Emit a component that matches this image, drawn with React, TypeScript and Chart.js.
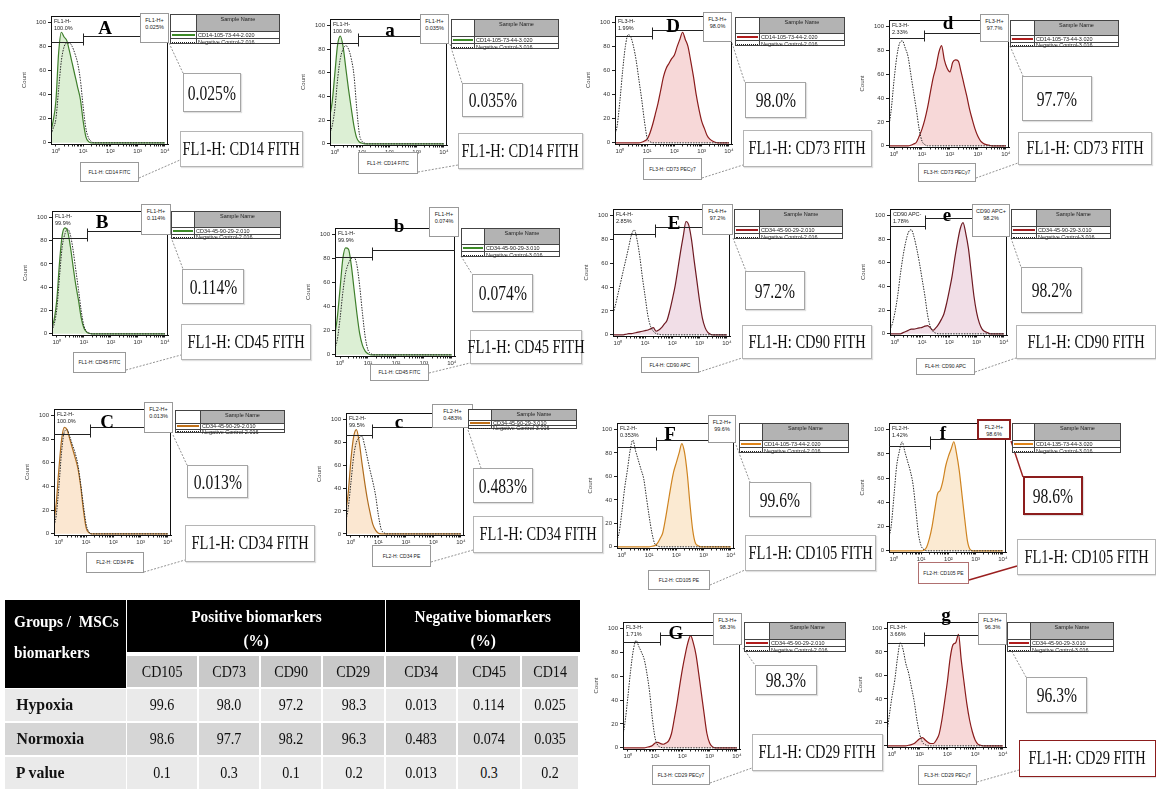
import React, { useEffect, useRef } from 'react';
import { Chart, registerables } from 'chart.js';

Chart.register(...registerables);

const SERIF = '"Liberation Serif", "Times New Roman", serif';
const SANS = '"Liberation Sans", Arial, sans-serif';

// ---------------- axes (shared by every histogram) ----------------
const X_CHANNELS = [0.63, 0.79, 1, 1.26, 1.58, 2, 2.51, 3.16, 3.98, 5.01, 6.31, 7.94, 10,
  12.6, 15.8, 20, 25.1, 31.6, 39.8, 50.1, 63.1, 79.4, 100,
  126, 158, 200, 251, 316, 398, 501, 631, 794, 1000,
  1259, 1585, 1995, 2512, 3162, 3981, 5012, 6310, 7943, 10000];
const X_MAJOR_TICKS = [1, 10, 100, 1000, 10000];
const X_MINOR_TICKS = [2, 3, 4, 5, 6, 7, 8, 9, 20, 30, 40, 50, 60, 70, 80, 90, 200, 300, 400, 500, 600, 700, 800, 900, 2000, 3000, 4000, 5000, 6000, 7000, 8000, 9000];
const X_TICK_LABELS = ['10⁰', '10¹', '10²', '10³', '10⁴'];
const Y_TICKS = [0, 20, 40, 60, 80, 100];
const X_RANGE = [0.66, 13000];
const Y_RANGE = [-1, 105.5];

// ---------------- histogram counts (one value per X_CHANNELS entry) ----------------
const A_SAMPLE = [8, 18, 35, 75, 92, 88, 85, 76, 66, 56, 46, 36, 18, 5, 1, 0, 0, 0, 0, 0, 0, 0, 0, 0, 0, 0, 0, 0, 0, 0, 0, 0, 0, 0, 0, 0, 0, 0, 0, 0, 0, 0, 0];
const A_CONTROL = [5, 12, 20, 45, 68, 80, 83, 83, 80, 74, 66, 52, 30, 12, 4, 1, 0, 0, 0, 0, 0, 0, 0, 0, 0, 0, 0, 0, 0, 0, 0, 0, 0, 0, 0, 0, 0, 0, 0, 0, 0, 0, 0];
const a_SAMPLE = [22, 35, 60, 84, 91, 82, 64, 46, 30, 15, 5, 1.5, 0.5, 0, 0, 0, 0, 0, 0, 0, 0, 0, 0, 0, 0, 0, 0, 0, 0, 0, 0, 0, 0, 0, 0, 0, 0, 0, 0, 0, 0, 0, 0];
const a_CONTROL = [8, 15, 30, 55, 72, 80, 83, 80, 72, 58, 30, 8, 2, 0.5, 0, 0, 0, 0, 0, 0, 0, 0, 0, 0, 0, 0, 0, 0, 0, 0, 0, 0, 0, 0, 0, 0, 0, 0, 0, 0, 0, 0, 0];
const B_SAMPLE = [5, 12, 30, 62, 85, 91, 88, 75, 58, 42, 29, 14, 5, 1.5, 0.5, 0, 0, 0, 0, 0, 0, 0, 0, 0, 0, 0, 0, 0, 0, 0, 0, 0, 0, 0, 0, 0, 0, 0, 0, 0, 0, 0, 0];
const B_CONTROL = [3, 8, 22, 50, 75, 86, 90, 85, 72, 55, 38, 20, 7, 2, 0.5, 0, 0, 0, 0, 0, 0, 0, 0, 0, 0, 0, 0, 0, 0, 0, 0, 0, 0, 0, 0, 0, 0, 0, 0, 0, 0, 0, 0];
const b_SAMPLE = [15, 30, 55, 80, 89, 88, 75, 55, 35, 18, 8, 3, 0.8, 0, 0, 0, 0, 0, 0, 0, 0, 0, 0, 0, 0, 0, 0, 0, 0, 0, 0, 0, 0, 0, 0, 0, 0, 0, 0, 0, 0, 0, 0];
const b_CONTROL = [5, 12, 30, 52, 68, 76, 80, 81, 75, 58, 35, 15, 4, 1, 0, 0, 0, 0, 0, 0, 0, 0, 0, 0, 0, 0, 0, 0, 0, 0, 0, 0, 0, 0, 0, 0, 0, 0, 0, 0, 0, 0, 0];
const C_SAMPLE = [9, 25, 55, 80, 90, 88, 80, 72, 64, 55, 40, 20, 5, 1, 0, 0, 0, 0, 0, 0, 0, 0, 0, 0, 0, 0, 0, 0, 0, 0, 0, 0, 0, 0, 0, 0, 0, 0, 0, 0, 0, 0, 0];
const C_CONTROL = [5, 15, 40, 70, 86, 88, 82, 75, 68, 58, 42, 24, 8, 1.5, 0, 0, 0, 0, 0, 0, 0, 0, 0, 0, 0, 0, 0, 0, 0, 0, 0, 0, 0, 0, 0, 0, 0, 0, 0, 0, 0, 0, 0];
const c_SAMPLE = [18, 35, 65, 85, 91, 80, 62, 45, 30, 18, 8, 3, 0.5, 0, 0, 0, 0, 0, 0, 0, 0, 0, 0, 0, 0, 0, 0, 0, 0, 0, 0, 0, 0, 0, 0, 0, 0, 0, 0, 0, 0, 0, 0];
const c_CONTROL = [10, 22, 45, 68, 80, 84, 85, 77, 66, 55, 45, 33, 16, 4, 1, 0, 0, 0, 0, 0, 0, 0, 0, 0, 0, 0, 0, 0, 0, 0, 0, 0, 0, 0, 0, 0, 0, 0, 0, 0, 0, 0, 0];
const D_SAMPLE = [0, 0, 0, 0, 0, 0, 0, 0, 0, 0, 0.5, 1.5, 3, 8, 15, 24, 33, 44, 55, 62, 66, 70, 73, 80, 86, 92, 86, 80, 68, 55, 40, 28, 18, 12, 6, 3, 1.5, 0.5, 0, 0, 0, 0, 0];
const D_CONTROL = [6, 14, 35, 60, 80, 90, 88, 80, 68, 52, 36, 18, 4, 1, 0, 0, 0, 0, 0, 0, 0, 0, 0, 0, 0, 0, 0, 0, 0, 0, 0, 0, 0, 0, 0, 0, 0, 0, 0, 0, 0, 0, 0];
const d_SAMPLE = [0, 0, 0, 0, 0, 0, 0, 0, 0.5, 1.5, 3, 8, 14, 22, 32, 45, 57, 66, 78, 84, 72, 65, 62, 70, 72, 71, 62, 52, 42, 31, 22, 14, 8, 4, 2, 1, 0.5, 0, 0, 0, 0, 0, 0];
const d_CONTROL = [14, 30, 55, 75, 86, 88, 82, 75, 60, 45, 30, 14, 4, 1, 0, 0, 0, 0, 0, 0, 0, 0, 0, 0, 0, 0, 0, 0, 0, 0, 0, 0, 0, 0, 0, 0, 0, 0, 0, 0, 0, 0, 0];
const E_SAMPLE = [0, 0, 0, 0, 0, 0.5, 1, 1, 1.5, 2, 2.5, 3, 3.5, 4, 5, 6, 3, 4, 6, 9, 12, 20, 30, 41, 55, 70, 83, 95, 92, 80, 62, 45, 28, 14, 6, 2, 0.5, 0, 0, 0, 0, 0, 0];
const E_CONTROL = [16, 24, 34, 44, 54, 64, 74, 84, 88, 80, 66, 48, 32, 16, 7, 3, 1, 0.5, 0, 0, 0, 0, 0, 0, 0, 0, 0, 0, 0, 0, 0, 0, 0, 0, 0, 0, 0, 0, 0, 0, 0, 0, 0];
const e_SAMPLE = [0, 0, 0, 0, 0, 1, 2, 3, 4, 4, 4.5, 5, 5.5, 6.5, 7, 5, 3, 5, 8, 12, 17, 26, 37, 49, 64, 78, 89, 94, 85, 72, 52, 32, 18, 9, 4, 2, 1, 0, 0, 0, 0, 0, 0];
const e_CONTROL = [3, 8, 18, 32, 50, 66, 78, 86, 88, 82, 72, 60, 46, 32, 16, 6, 2, 0.5, 0, 0, 0, 0, 0, 0, 0, 0, 0, 0, 0, 0, 0, 0, 0, 0, 0, 0, 0, 0, 0, 0, 0, 0, 0];
const F_SAMPLE = [0, 0, 0, 0, 0, 0, 0, 0, 0, 0, 0, 0, 0, 0.5, 1, 3, 7, 12, 24, 38, 52, 64, 72, 80, 88, 80, 62, 36, 14, 3, 1, 0, 0, 0, 0, 0, 0, 0, 0, 0, 0, 0, 0];
const F_CONTROL = [5, 12, 30, 50, 65, 82, 91, 82, 74, 66, 58, 42, 26, 12, 3, 1, 0, 0, 0, 0, 0, 0, 0, 0, 0, 0, 0, 0, 0, 0, 0, 0, 0, 0, 0, 0, 0, 0, 0, 0, 0, 0, 0];
const f_SAMPLE = [0, 0, 0, 0, 0, 0, 0, 0, 0, 0, 0, 0, 0, 0.5, 3, 10, 20, 34, 47, 50, 58, 70, 78, 84, 90, 80, 66, 46, 26, 8, 1, 0, 0, 0, 0, 0, 0, 0, 0, 0, 0, 0, 0];
const f_CONTROL = [10, 20, 45, 70, 82, 90, 82, 74, 66, 55, 35, 14, 4, 1, 0, 0, 0, 0, 0, 0, 0, 0, 0, 0, 0, 0, 0, 0, 0, 0, 0, 0, 0, 0, 0, 0, 0, 0, 0, 0, 0, 0, 0];
const G_SAMPLE = [0, 0, 0, 0, 0, 0, 0, 0, 0, 0.5, 1, 2, 4, 4.5, 3.5, 3, 4, 6, 12, 24, 37, 52, 66, 78, 88, 94, 88, 78, 62, 45, 28, 12, 4, 1, 0, 0, 0, 0, 0, 0, 0, 0, 0];
const G_CONTROL = [8, 22, 43, 65, 82, 90, 85, 80, 74, 62, 46, 24, 8, 2, 0.5, 0, 0, 0, 0, 0, 0, 0, 0, 0, 0, 0, 0, 0, 0, 0, 0, 0, 0, 0, 0, 0, 0, 0, 0, 0, 0, 0, 0];
const g_SAMPLE = [0, 0, 0, 0, 0, 0, 0, 0, 0.5, 1, 2, 4, 6, 7, 5, 3, 2, 2, 5, 10, 22, 38, 55, 75, 86, 88, 95, 73, 54, 36, 22, 12, 5, 1.5, 0.5, 0, 0, 0, 0, 0, 0, 0, 0];
const g_CONTROL = [9, 25, 42, 56, 75, 88, 82, 70, 62, 50, 38, 22, 10, 3, 1, 0, 0, 0, 0, 0, 0, 0, 0, 0, 0, 0, 0, 0, 0, 0, 0, 0, 0, 0, 0, 0, 0, 0, 0, 0, 0, 0, 0];

// gate markers: [boundary channel, negative-gate count level, positive-gate count level]
const A_GATE = [10, 84, 89];
const a_GATE = [6.8, 85, 91];
const B_GATE = [12.6, 82, 88];
const b_GATE = [13.5, 81, 87];
const C_GATE = [13.5, 84.7, 90];
const c_GATE = [5.9, 86.7, 93];
const D_GATE = [15.5, 88.6, 94];
const d_GATE = [12.3, 90.6, 95];
const E_GATE = [22.4, 84.6, 90];
const e_GATE = [12.9, 91.5, 98];
const F_GATE = [17.4, 85.2, 91];
const f_GATE = [20.9, 86.2, 92.3];
const G_GATE = [14.8, 88.7, 94.6];
const g_GATE = [14.1, 87.2, 94.3];

// ---------------- summary table ----------------
const TABLE_MARKERS = ['CD105', 'CD73', 'CD90', 'CD29', 'CD34', 'CD45', 'CD14'];
const TABLE_GROUPS = ['Positive biomarkers', 'Negative biomarkers'];
const ROW_LABELS = ['Hypoxia', 'Normoxia', 'P value'];
const HYPOXIA = ['99.6', '98.0', '97.2', '98.3', '0.013', '0.114', '0.025'];
const NORMOXIA = ['98.6', '97.7', '98.2', '96.3', '0.483', '0.074', '0.035'];
const P_VALUES = ['0.1', '0.3', '0.1', '0.2', '0.013', '0.3', '0.2'];

// ---------------- styles ----------------
const GREEN = { line: '#3f7f2c', fill: 'rgba(214,236,204,0.85)', legend: '#3c8a26' };
const BROWN = { line: '#b06d1f', fill: 'rgba(251,228,204,0.9)', legend: '#c07018' };
const RED = { line: '#8a1c1c', fill: 'rgba(246,212,212,0.9)', legend: '#b01c1c' };
const MAUVE = { line: '#6e1a22', fill: 'rgba(240,218,228,0.9)', legend: '#a01c20' };
const ORANGE = { line: '#cf8420', fill: 'rgba(251,232,205,0.9)', legend: '#e08418' };

type Rect = [number, number, number, number];
type Seg = [number, number, number, number];
interface PanelSpec {
  letter: string; letterAt: [number, number];
  plot: Rect; sample: number[]; control: number[]; gate: number[];
  color: { line: string; fill: string; legend: string };
  neg: string[]; pos: string[]; names: string[];
  xTitle: string; label: string;
  posBox: Rect; legend: Rect; split: number; pctBox: Rect; labelBox: Rect; xBox: Rect;
  links: Seg[]; accent?: boolean; labelAccent?: boolean;
}

const PANELS: PanelSpec[] = [
  { letter: 'A', letterAt: [105, 27], plot: [51, 16, 117, 128], sample: A_SAMPLE, control: A_CONTROL, gate: A_GATE, color: GREEN,
    neg: ['FL1-H-', '100.0%'], pos: ['FL1-H+', '0.025%'], names: ['CD14-105-73-44-2.020', 'Negative Control-2.016'],
    xTitle: 'FL1-H: CD14 FITC', label: 'FL1-H: CD14 FITH',
    posBox: [140, 13, 29, 30], legend: [170, 14, 110, 30], split: 25, pctBox: [183, 73, 58, 39], labelBox: [180, 131, 123, 36], xBox: [80, 162, 59, 20],
    links: [[169, 43, 183, 73], [139, 178, 180, 160]] },
  { letter: 'a', letterAt: [390, 29], plot: [330, 19, 117, 126], sample: a_SAMPLE, control: a_CONTROL, gate: a_GATE, color: GREEN,
    neg: ['FL1-H-', '100.0%'], pos: ['FL1-H+', '0.035%'], names: ['CD14-105-73-44-3.020', 'Negative Control-3.016'],
    xTitle: 'FL1-H: CD14 FITC', label: 'FL1-H: CD14 FITH',
    posBox: [420, 14, 29, 30], legend: [451, 19, 108, 30], split: 22, pctBox: [462, 83, 61, 34], labelBox: [458, 133, 125, 36], xBox: [358, 152, 60, 22],
    links: [[450, 44, 462, 83], [418, 172, 458, 165]] },
  { letter: 'D', letterAt: [673, 25], plot: [615, 16, 117, 128], sample: D_SAMPLE, control: D_CONTROL, gate: D_GATE, color: RED,
    neg: ['FL3-H-', '1.99%'], pos: ['FL3-H+', '98.0%'], names: ['CD14-105-73-44-2.020', 'Negative Control-2.016'],
    xTitle: 'FL3-H: CD73 PECy7', label: 'FL1-H: CD73 FITH',
    posBox: [703, 12, 29, 30], legend: [735, 17, 110, 29], split: 23, pctBox: [745, 82, 61, 36], labelBox: [743, 130, 129, 37], xBox: [643, 158, 59, 22],
    links: [[732, 43, 745, 83], [702, 178, 743, 165]] },
  { letter: 'd', letterAt: [948, 22], plot: [889, 20, 120, 127], sample: d_SAMPLE, control: d_CONTROL, gate: d_GATE, color: RED,
    neg: ['FL3-H-', '2.33%'], pos: ['FL3-H+', '97.7%'], names: ['CD14-105-73-44-3.020', 'Negative Control-3.016'],
    xTitle: 'FL3-H: CD73 PECy7', label: 'FL1-H: CD73 FITH',
    posBox: [980, 14, 29, 28], legend: [1010, 20, 109, 27], split: 23, pctBox: [1022, 76, 70, 45], labelBox: [1018, 132, 134, 33], xBox: [918, 163, 58, 19],
    links: [[1010, 46, 1023, 76], [976, 178, 1018, 163]] },
  { letter: 'B', letterAt: [102, 221], plot: [52, 211, 116, 124], sample: B_SAMPLE, control: B_CONTROL, gate: B_GATE, color: GREEN,
    neg: ['FL1-H-', '99.9%'], pos: ['FL1-H+', '0.114%'], names: ['CD34-45-90-29-2.010', 'Negative Control-2.016'],
    xTitle: 'FL1-H: CD45 FITC', label: 'FL1-H: CD45 FITH',
    posBox: [141, 204, 30, 31], legend: [171, 211, 110, 28], split: 22, pctBox: [182, 269, 62, 35], labelBox: [181, 324, 130, 36], xBox: [73, 352, 53, 21],
    links: [[171, 237, 183, 269], [126, 370, 181, 355]] },
  { letter: 'b', letterAt: [399, 225], plot: [335, 228, 120, 128], sample: b_SAMPLE, control: b_CONTROL, gate: b_GATE, color: GREEN,
    neg: ['FL1-H-', '99.9%'], pos: ['FL1-H+', '0.074%'], names: ['CD34-45-90-29-3.010', 'Negative Control-3.016'],
    xTitle: 'FL1-H: CD45 FITC', label: 'FL1-H: CD45 FITH',
    posBox: [429, 207, 30, 30], legend: [461, 228, 99, 29], split: 22, pctBox: [472, 274, 61, 38], labelBox: [470, 330, 112, 34], xBox: [370, 364, 59, 17],
    links: [[461, 256, 472, 274], [429, 373, 470, 363]] },
  { letter: 'E', letterAt: [674, 222], plot: [613, 209, 117, 127], sample: E_SAMPLE, control: E_CONTROL, gate: E_GATE, color: MAUVE,
    neg: ['FL4-H-', '2.85%'], pos: ['FL4-H+', '97.2%'], names: ['CD34-45-90-29-2.010', 'Negative Control-2.016'],
    xTitle: 'FL4-H: CD90 APC', label: 'FL1-H: CD90 FITH',
    posBox: [702, 204, 31, 31], legend: [734, 209, 109, 30], split: 24, pctBox: [745, 271, 60, 39], labelBox: [742, 325, 130, 34], xBox: [641, 357, 58, 16],
    links: [[733, 238, 746, 271], [699, 372, 742, 358]] },
  { letter: 'e', letterAt: [947, 214], plot: [890, 209, 117, 126], sample: e_SAMPLE, control: e_CONTROL, gate: e_GATE, color: MAUVE,
    neg: ['CD90 APC-', '1.78%'], pos: ['CD90 APC+', '98.2%'], names: ['CD34-45-90-29-3.010', 'Negative Control-3.016'],
    xTitle: 'FL4-H: CD90 APC', label: 'FL1-H: CD90 FITH',
    posBox: [972, 204, 38, 33], legend: [1011, 209, 100, 30], split: 24, pctBox: [1021, 267, 61, 46], labelBox: [1016, 325, 140, 34], xBox: [916, 358, 59, 17],
    links: [[1011, 238, 1021, 267], [975, 372, 1016, 358]] },
  { letter: 'C', letterAt: [107, 421], plot: [54, 409, 117, 126], sample: C_SAMPLE, control: C_CONTROL, gate: C_GATE, color: BROWN,
    neg: ['FL2-H-', '100.0%'], pos: ['FL2-H+', '0.013%'], names: ['CD34-45-90-29-2.010', 'Negative Control-2.016'],
    xTitle: 'FL2-H: CD34 PE', label: 'FL1-H: CD34 FITH',
    posBox: [144, 402, 29, 31], legend: [175, 410, 110, 23], split: 24, pctBox: [187, 465, 61, 33], labelBox: [185, 525, 130, 37], xBox: [86, 552, 58, 21],
    links: [[173, 435, 187, 465], [144, 572, 185, 560]] },
  { letter: 'c', letterAt: [399, 421], plot: [346, 413, 118, 122], sample: c_SAMPLE, control: c_CONTROL, gate: c_GATE, color: BROWN,
    neg: ['FL2-H-', '99.5%'], pos: ['FL2-H+', '0.483%'], names: ['CD34-45-90-29-3.010', 'Negative Control-3.016'],
    xTitle: 'FL2-H: CD34 PE', label: 'FL1-H: CD34 FITH',
    posBox: [432, 404, 41, 24], legend: [468, 409, 109, 20], split: 22, pctBox: [473, 468, 60, 35], labelBox: [473, 516, 130, 37], xBox: [372, 545, 59, 22],
    links: [[468, 430, 481, 468], [431, 562, 473, 550]] },
  { letter: 'F', letterAt: [670, 433], plot: [617, 423, 117, 125], sample: F_SAMPLE, control: F_CONTROL, gate: F_GATE, color: ORANGE,
    neg: ['FL2-H-', '0.353%'], pos: ['FL2-H+', '99.6%'], names: ['CD14-105-73-44-2.020', 'Negative Control-2.016'],
    xTitle: 'FL2-H: CD105 PE', label: 'FL1-H: CD105 FITH',
    posBox: [708, 415, 28, 28], legend: [739, 423, 110, 30], split: 22, pctBox: [749, 482, 62, 35], labelBox: [745, 535, 131, 36], xBox: [648, 570, 62, 20],
    links: [[736, 445, 750, 482], [710, 585, 745, 570]] },
  { letter: 'f', letterAt: [943, 432], plot: [889, 423, 117, 129], sample: f_SAMPLE, control: f_CONTROL, gate: f_GATE, color: ORANGE,
    neg: ['FL2-H-', '1.42%'], pos: ['FL2-H+', '98.6%'], names: ['CD14-135-73-44-3.020', 'Negative Control-3.016'],
    xTitle: 'FL2-H: CD105 PE', label: 'FL1-H: CD105 FITH',
    posBox: [977, 419, 34, 21], legend: [1012, 423, 109, 30], split: 21, pctBox: [1023, 476, 60, 39], labelBox: [1017, 539, 139, 36], xBox: [918, 562, 51, 22],
    links: [[1011, 441, 1023, 477], [969, 580, 1017, 566]], accent: true },
  { letter: 'G', letterAt: [676, 632], plot: [623, 622, 117, 127], sample: G_SAMPLE, control: G_CONTROL, gate: G_GATE, color: RED,
    neg: ['FL3-H-', '1.71%'], pos: ['FL3-H+', '98.3%'], names: ['CD34-45-90-29-2.010', 'Negative Control-2.016'],
    xTitle: 'FL3-H: CD29 PECy7', label: 'FL1-H: CD29 FITH',
    posBox: [713, 613, 29, 32], legend: [744, 622, 102, 30], split: 24, pctBox: [755, 665, 62, 30], labelBox: [752, 734, 131, 37], xBox: [652, 765, 58, 20],
    links: [[743, 648, 755, 665], [710, 783, 752, 768]] },
  { letter: 'g', letterAt: [946, 614], plot: [887, 622, 119, 125], sample: g_SAMPLE, control: g_CONTROL, gate: g_GATE, color: RED,
    neg: ['FL3-H-', '3.66%'], pos: ['FL3-H+', '96.3%'], names: ['CD34-45-90-29-3.010', 'Negative Control-3.016'],
    xTitle: 'FL3-H: CD29 PECy7', label: 'FL1-H: CD29 FITH',
    posBox: [978, 613, 29, 32], legend: [1007, 622, 107, 30], split: 22, pctBox: [1026, 677, 61, 36], labelBox: [1019, 740, 137, 37], xBox: [918, 765, 59, 20],
    links: [[1010, 648, 1026, 677], [977, 782, 1019, 770]], labelAccent: true },
];

// ---------------- chart geometry ----------------
const AXW = 30;
const AXH = 16;
const PADT = 3;
const PADR = 8;
const X_ALL_TICKS = [...X_MAJOR_TICKS, ...X_MINOR_TICKS].sort((p, q) => p - q);

function gatePlugin(gate: number[]) {
  return {
    id: 'gateFrame',
    afterDatasetsDraw(chart: any) {
      const { ctx, chartArea: a, scales } = chart;
      const x = scales.x;
      const y = scales.y;
      ctx.save();
      ctx.strokeStyle = '#111';
      ctx.lineWidth = 1;
      ctx.strokeRect(Math.round(a.left) + 0.5, Math.round(a.top) + 0.5, Math.round(a.right - a.left) - 1, Math.round(a.bottom - a.top));
      const xb = Math.round(x.getPixelForValue(gate[0])) + 0.5;
      const yn = Math.round(y.getPixelForValue(gate[1])) + 0.5;
      const yp = Math.round(y.getPixelForValue(gate[2])) + 0.5;
      ctx.strokeStyle = '#222';
      ctx.beginPath();
      ctx.moveTo(a.left, yn); ctx.lineTo(xb, yn);
      ctx.moveTo(xb, yp); ctx.lineTo(a.right, yp);
      ctx.moveTo(xb, yp - 3); ctx.lineTo(xb, yn + 3);
      ctx.stroke();
      ctx.restore();
    },
  };
}

function Histogram({ p }: { p: PanelSpec }) {
  const ref = useRef<HTMLCanvasElement>(null);
  const [L, T, W, H] = p.plot;
  const cw = W + AXW + PADR;
  const ch = H + PADT + AXH;
  useEffect(() => {
    const tickFont = { size: 6, family: SANS };
    const chart = new Chart(ref.current as HTMLCanvasElement, {
      type: 'line',
      data: {
        datasets: [
          {
            label: 'Negative Control',
            data: X_CHANNELS.map((x, i) => ({ x, y: p.control[i] })),
            borderColor: '#2a2a2a', borderWidth: 1, borderDash: [1.5, 1.2],
            pointRadius: 0, fill: false, cubicInterpolationMode: 'monotone',
          },
          {
            label: 'Sample',
            data: X_CHANNELS.map((x, i) => ({ x, y: p.sample[i] })),
            borderColor: p.color.line, borderWidth: 1.2, backgroundColor: p.color.fill,
            pointRadius: 0, fill: 'origin', cubicInterpolationMode: 'monotone',
          },
        ],
      } as any,
      options: {
        animation: false, responsive: false, maintainAspectRatio: false, devicePixelRatio: 1,
        events: [],
        layout: { padding: { left: 0, top: PADT, right: PADR, bottom: 0 } },
        plugins: { legend: { display: false }, tooltip: { enabled: false } },
        scales: {
          x: {
            type: 'logarithmic', min: X_RANGE[0], max: X_RANGE[1],
            afterBuildTicks: (s: any) => { s.ticks = X_ALL_TICKS.map((v) => ({ value: v })); },
            afterFit: (s: any) => { s.height = AXH; s.paddingLeft = 0; s.paddingRight = 0; },
            ticks: {
              autoSkip: false, maxRotation: 0, minRotation: 0, padding: 1, font: tickFont, color: '#333',
              callback: (v: any) => { const i = X_MAJOR_TICKS.indexOf(Number(v)); return i >= 0 ? X_TICK_LABELS[i] : ''; },
            },
            grid: { drawOnChartArea: false, drawTicks: true, tickLength: 2.5, color: '#222' },
            border: { display: true, color: '#111', width: 1 },
          },
          y: {
            min: Y_RANGE[0], max: Y_RANGE[1],
            afterBuildTicks: (s: any) => { s.ticks = Y_TICKS.map((v) => ({ value: v })); },
            afterFit: (s: any) => { s.width = AXW; s.paddingTop = 0; s.paddingBottom = 0; },
            ticks: { font: tickFont, color: '#333', padding: 2 },
            title: { display: true, text: 'Count', font: { size: 6, family: SANS }, color: '#444', padding: { top: 0, bottom: 0 } },
            grid: { drawOnChartArea: false, drawTicks: true, tickLength: 3, color: '#222' },
            border: { display: true, color: '#111', width: 1 },
          },
        },
      } as any,
      plugins: [gatePlugin(p.gate)],
    });
    return () => chart.destroy();
  }, []);
  return (
    <canvas ref={ref} width={cw} height={ch}
      style={{ position: 'absolute', left: L - AXW, top: T - PADT, width: cw, height: ch }} />
  );
}

function Squeezed({ children, size, scale = 0.78, bold = false, color = '#111' }: any) {
  return (
    <span style={{ display: 'inline-block', fontFamily: SERIF, fontSize: size, fontWeight: bold ? 700 : 400, transform: `scaleX(${scale})`, whiteSpace: 'nowrap', color, lineHeight: 1 }}>
      {children}
    </span>
  );
}

function Box({ r, border = '1px solid #aaa', children, shadow = true }: any) {
  const [x, y, w, h] = r;
  return (
    <div style={{ position: 'absolute', left: x, top: y, width: w, height: h, boxSizing: 'border-box', border, background: '#fff',
      display: 'flex', alignItems: 'center', justifyContent: 'center', boxShadow: shadow ? '1px 1px 1px rgba(0,0,0,0.12)' : 'none' }}>
      {children}
    </div>
  );
}

const tiny: any = { fontFamily: SANS, fontSize: 5.5, lineHeight: '6.5px', color: '#222', whiteSpace: 'nowrap' };

function Legend({ p }: { p: PanelSpec }) {
  const [x, y, w, h] = p.legend;
  const head = Math.round(h * 0.52);
  const row = (h - head) / 2;
  return (
    <div style={{ position: 'absolute', left: x, top: y, width: w, height: h, boxSizing: 'border-box', border: '1px solid #444', background: '#fff' }}>
      <div style={{ position: 'absolute', left: p.split, top: 0, right: 0, height: head, background: '#b3b3b3', borderLeft: '1px solid #444', boxSizing: 'border-box', textAlign: 'center', ...tiny, paddingTop: 1 }}>Sample Name</div>
      <div style={{ position: 'absolute', left: 0, right: 0, top: head, height: 0, borderTop: '1px solid #444' }} />
      <div style={{ position: 'absolute', left: 0, right: 0, top: head + row, height: 0, borderTop: '1px solid #444' }} />
      <div style={{ position: 'absolute', left: p.split, top: head, bottom: 0, width: 0, borderLeft: '1px solid #444' }} />
      <div style={{ position: 'absolute', left: 1, width: p.split - 2, top: head + row / 2 - 0.5, height: 2, background: p.color.legend }} />
      <div style={{ position: 'absolute', left: 1, width: p.split - 2, top: head + row * 1.5, height: 0, borderTop: '1px dotted #222' }} />
      <div style={{ position: 'absolute', left: p.split + 2, top: head + (row - 6.5) / 2 + 0.5, ...tiny }}>{p.names[0]}</div>
      <div style={{ position: 'absolute', left: p.split + 2, top: head + row + (row - 6.5) / 2 + 0.5, ...tiny }}>{p.names[1]}</div>
    </div>
  );
}

function PanelOverlay({ p }: { p: PanelSpec }) {
  const [L, T] = p.plot;
  const red = '#8c1d1d';
  return (
    <>
      <div style={{ position: 'absolute', left: L + 3, top: T + 2, ...tiny }}>{p.neg[0]}<br />{p.neg[1]}</div>
      <div style={{ position: 'absolute', left: p.posBox[0], top: p.posBox[1], width: p.posBox[2], height: p.posBox[3], boxSizing: 'border-box',
        border: p.accent ? `2px solid ${red}` : '1px solid #999', background: '#fff', paddingTop: 3, textAlign: 'center', ...tiny }}>
        {p.pos[0]}<br />{p.pos[1]}
      </div>
      <div style={{ position: 'absolute', left: p.letterAt[0], top: p.letterAt[1], transform: 'translate(-50%,-50%)', fontFamily: SERIF, fontWeight: 700, fontSize: 19, lineHeight: 1, color: '#000' }}>{p.letter}</div>
      <Legend p={p} />
      <Box r={p.pctBox} border={p.accent ? `2px solid ${red}` : '1px solid #a5a5a5'}>
        <Squeezed size={20}>{p.pos[1]}</Squeezed>
      </Box>
      <Box r={p.labelBox} border={p.labelAccent ? `1px solid ${red}` : '1px solid #b5b5b5'}>
        <Squeezed size={18.5}>{p.label}</Squeezed>
      </Box>
      <Box r={p.xBox} border={p.accent ? '1px solid #b07070' : '1px solid #999'} shadow={false}>
        <span style={{ ...tiny, fontSize: 5 }}>{p.xTitle}</span>
      </Box>
    </>
  );
}

function Connectors() {
  return (
    <svg width={1156} height={789} style={{ position: 'absolute', left: 0, top: 0, pointerEvents: 'none' }}>
      {PANELS.map((p, i) => p.links.map((s, j) => (
        <line key={`${i}-${j}`} x1={s[0]} y1={s[1]} x2={s[2]} y2={s[3]}
          stroke={p.accent ? '#9a1f1f' : '#777'} strokeWidth={p.accent ? 1.4 : 0.8} strokeDasharray={p.accent ? undefined : '2 1.5'} />
      )))}
    </svg>
  );
}

// ---------------- table layout ----------------
const COL_X = [127, 199, 261, 323, 386, 458, 522, 580];
const ROW_TOP = [689, 723, 757];
const ROW_H = 32;
const ROW_BG = ['#eaeaea', '#d6d6d6', '#eaeaea'];

function SummaryTable() {
  const rows = [HYPOXIA, NORMOXIA, P_VALUES];
  const cell = (left: number, top: number, w: number, h: number, bg: string, content: any, key: string, justify = 'center') => (
    <div key={key} style={{ position: 'absolute', left, top, width: w, height: h, background: bg, display: 'flex', alignItems: 'center', justifyContent: justify }}>
      {content}
    </div>
  );
  const items: any[] = [];
  items.push(
    <div key="corner" style={{ position: 'absolute', left: 5, top: 600, width: 121, height: 88, background: '#000' }}>
      <div style={{ position: 'absolute', left: 9, top: 13, transformOrigin: 'left', transform: 'scaleX(0.9)', fontFamily: SERIF, fontWeight: 700, fontSize: 17, color: '#fff', whiteSpace: 'pre', lineHeight: 1 }}>{'Groups /  MSCs'}</div>
      <div style={{ position: 'absolute', left: 9, top: 44, transformOrigin: 'left', transform: 'scaleX(0.9)', fontFamily: SERIF, fontWeight: 700, fontSize: 17, color: '#fff', lineHeight: 1 }}>biomarkers</div>
    </div>
  );
  const groupSpans = [[COL_X[0], COL_X[4] - 1], [COL_X[4], COL_X[7]]];
  TABLE_GROUPS.forEach((g, i) => {
    const [a, b] = groupSpans[i];
    items.push(
      <div key={`g${i}`} style={{ position: 'absolute', left: a, top: 600, width: b - a, height: 52, background: '#000', textAlign: 'center', color: '#fff' }}>
        <div style={{ marginTop: 8 }}><Squeezed size={17} bold color="#fff" scale={0.9}>{g}</Squeezed></div>
        <div style={{ marginTop: 6 }}><Squeezed size={17} bold color="#fff" scale={0.9}>(%)</Squeezed></div>
      </div>
    );
  });
  TABLE_MARKERS.forEach((m, i) => {
    const w = COL_X[i + 1] - COL_X[i] - 2;
    items.push(cell(COL_X[i], 656, w, 31, '#c9c9c9', <Squeezed size={16} scale={0.88}>{m}</Squeezed>, `m${i}`));
  });
  ROW_LABELS.forEach((r, ri) => {
    items.push(cell(5, ROW_TOP[ri], 121, ROW_H, ROW_BG[ri],
      <span style={{ marginLeft: 9, display: 'inline-block' }}><Squeezed size={17} bold scale={0.93}>{r}</Squeezed></span>, `r${ri}`, 'flex-start'));
    rows[ri].forEach((v, ci) => {
      const w = COL_X[ci + 1] - COL_X[ci] - 2;
      items.push(cell(COL_X[ci], ROW_TOP[ri], w, ROW_H, ROW_BG[ri], <Squeezed size={16} scale={0.88}>{v}</Squeezed>, `c${ri}-${ci}`));
    });
  });
  return <>{items}</>;
}

export default function App() {
  return (
    <div style={{ position: 'absolute', left: 0, top: 0, width: 1156, height: 789, background: '#fff', overflow: 'hidden' }}>
      {PANELS.map((p) => <Histogram key={p.letter} p={p} />)}
      <Connectors />
      {PANELS.map((p) => <PanelOverlay key={`o${p.letter}`} p={p} />)}
      <SummaryTable />
    </div>
  );
}
